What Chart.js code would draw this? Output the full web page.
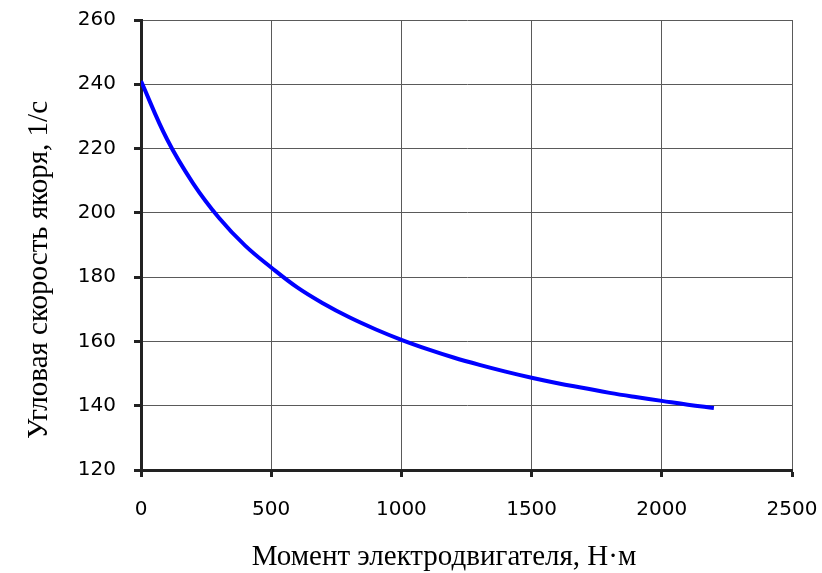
<!DOCTYPE html>
<html><head><meta charset="utf-8">
<script src="https://cdn.jsdelivr.net/npm/chart.js@4/dist/chart.umd.min.js"></script>
<style>html,body{margin:0;padding:0;background:#fff}#wrap{width:822px;height:573px}</style>
</head><body><div id="wrap"><canvas id="c" width="822" height="573"></canvas></div>
<script>
const torque = [0,100,200,300,400,500,600,700,800,900,1000,1100,1200,1300,1400,1500,1600,1700,1800,1900,2000,2100,2200];
const speed = [241.0,222.9,209.2,198.4,189.8,183.0,176.8,171.8,167.5,163.8,160.5,157.6,155.0,152.7,150.6,148.7,147.0,145.5,144.0,142.7,141.5,140.3,139.3];
const xTitle = 'Момент электродвигателя, Н·м';
const yTitle = 'Угловая скорость якоря, 1/с';
const xMin = 0, xMax = 2500, xStep = 500;
const yMin = 120, yMax = 260, yStep = 20;

const titles = {
  id: 'titles',
  afterDraw(chart) {
    const ctx = chart.ctx;
    ctx.save();
    ctx.fillStyle = '#000';
    ctx.font = '29px "Liberation Serif", "Times New Roman", serif';
    ctx.textAlign = 'center';
    ctx.textBaseline = 'alphabetic';
    ctx.fillText(xTitle, 444, 565);
    ctx.translate(47, 270);
    ctx.rotate(-Math.PI / 2);
    ctx.fillText(yTitle, 0, 0);
    ctx.restore();
  }
};

const tickFont = {family: '"DejaVu Sans", Verdana, sans-serif', size: 20};

new Chart(document.getElementById('c'), {
  type: 'line',
  data: {
    datasets: [{
      data: torque.map((t, i) => ({x: t, y: speed[i]})),
      borderColor: '#0000FF',
      borderWidth: 4,
      pointRadius: 0,
      tension: 0.4,
      fill: false
    }]
  },
  options: {
    responsive: false,
    animation: false,
    layout: {padding: {left: 0, top: 20, right: 30, bottom: 0}},
    plugins: {legend: {display: false}, tooltip: {enabled: false}},
    scales: {
      x: {
        type: 'linear', min: xMin, max: xMax,
        afterFit(s) { s.height = 103; s.paddingLeft = 0; s.paddingRight = 0; },
        ticks: {stepSize: xStep, color: '#000', padding: 21, maxRotation: 0, font: tickFont,
          callback: v => String(v)},
        grid: {color: '#5a5a5a', lineWidth: 1, tickColor: '#222', tickWidth: 3, tickLength: 7},
        border: {display: true, color: '#222', width: 3}
      },
      y: {
        min: yMin, max: yMax,
        afterFit(s) { s.width = 141; s.paddingTop = 0; s.paddingBottom = 0; },
        ticks: {stepSize: yStep, color: '#000', padding: 18, font: tickFont,
          callback: v => String(v)},
        grid: {color: '#5a5a5a', lineWidth: 1, tickColor: '#222', tickWidth: 3, tickLength: 7},
        border: {display: true, color: '#222', width: 3}
      }
    }
  },
  plugins: [titles]
});
</script></body></html>
